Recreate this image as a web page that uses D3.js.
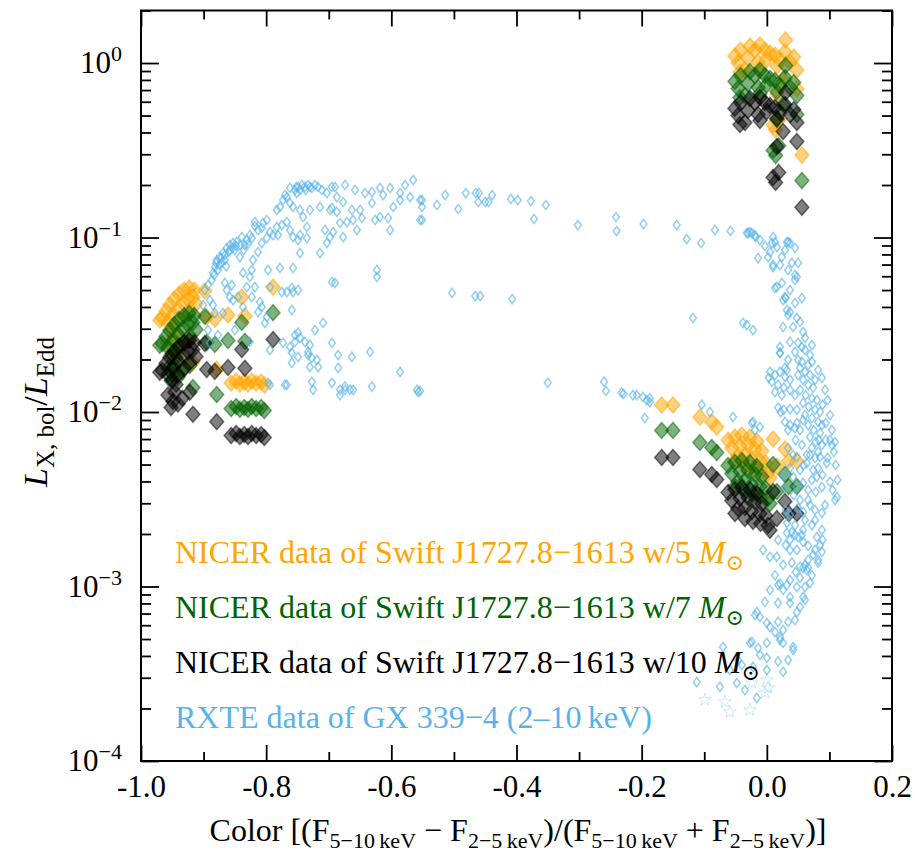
<!DOCTYPE html>
<html>
<head>
<meta charset="utf-8">
<script src="https://cdn.jsdelivr.net/npm/d3@7"></script>
<style>
  body { margin: 0; background: #fff; }
  svg { font-family: "Liberation Serif", "DejaVu Serif", serif; }
</style>
</head>
<body>
<div id="chart"></div>
<script>
// NICER data of Swift J1727.8-1613 : same colour, L/LEdd for 5, 7 and 10 Msun
const nicerColor = [
  -0.966, -0.960, -0.954, -0.947, -0.939, -0.931, -0.923, -0.915, -0.957, -0.949,
  -0.941, -0.933, -0.925, -0.917, -0.950, -0.941, -0.931, -0.922, -0.912, -0.944,
  -0.957, -0.949, -0.941, -0.934, -0.946, -0.952, -0.970, -0.898, -0.882, -0.861,
  -0.834, -0.839, -0.789, -0.879, -0.917, -0.895, -0.922, -0.856, -0.848, -0.842,
  -0.835, -0.829, -0.823, -0.816, -0.808, -0.803,
  -0.051, -0.042, -0.046, -0.030, -0.035, -0.019, -0.011, -0.003, 0.005, -0.014,
  0.000, 0.013, 0.021, 0.029, 0.037, 0.043, 0.048, 0.030, 0.016, 0.026,
  0.048, 0.016, 0.010, 0.019, 0.014, 0.056, -0.011, -0.027, -0.043,
  -0.168, -0.150, -0.107, -0.088, -0.080, -0.062, -0.051, -0.040, -0.027, -0.016,
  -0.056, -0.043, -0.030, -0.019, -0.008, -0.046, -0.035, -0.024, -0.011, -0.002,
  -0.035, -0.022, -0.010, 0.002, -0.051, 0.010, 0.029, 0.048, 0.035, 0.016, 0.005
];
const nicerL5 = [
  0.0346, 0.0379, 0.0410, 0.0444, 0.0475, 0.0500, 0.0514, 0.0500, 0.0328, 0.0360,
  0.0390, 0.0421, 0.0444, 0.0456, 0.0303, 0.0328, 0.0355, 0.0384, 0.0416, 0.0287,
  0.0249, 0.0230, 0.0221, 0.0239, 0.0259, 0.0212, 0.0337, 0.0494, 0.0341, 0.0360,
  0.0355, 0.0456, 0.0520, 0.0176, 0.0193, 0.0350, 0.0259, 0.01466, 0.01505, 0.01447,
  0.01486, 0.01447, 0.01505, 0.01466, 0.01486, 0.01428,
  1.097, 1.187, 1.000, 1.068, 0.912, 1.187, 1.268, 1.187, 1.141, 1.013,
  1.054, 1.111, 1.040, 1.156, 1.013, 1.082, 0.912, 1.355, 0.961, 0.810,
  0.710, 0.664, 0.441, 0.471, 0.413, 0.297, 0.936, 1.251, 0.888,
  0.01097, 0.01097, 0.00936, 0.00877, 0.00820, 0.00691, 0.00719, 0.00738, 0.00719, 0.00682,
  0.00622, 0.00639, 0.00647, 0.00614, 0.00598, 0.00560, 0.00567, 0.00538, 0.00524, 0.00510,
  0.00490, 0.00471, 0.00459, 0.00447, 0.00524, 0.00700, 0.00614, 0.00524, 0.00524, 0.00490, 0.00419
];
const nicerL7 = [
  0.0247, 0.0271, 0.0293, 0.0317, 0.0339, 0.0357, 0.0367, 0.0357, 0.0234, 0.0257,
  0.0279, 0.0301, 0.0317, 0.0326, 0.0216, 0.0234, 0.0254, 0.0274, 0.0297, 0.0205,
  0.0178, 0.0164, 0.0158, 0.0171, 0.0185, 0.0151, 0.0241, 0.0353, 0.0244, 0.0257,
  0.0254, 0.0326, 0.0371, 0.0126, 0.0138, 0.0250, 0.0185, 0.01047, 0.01075, 0.01034,
  0.01061, 0.01034, 0.01075, 0.01047, 0.01061, 0.01020,
  0.784, 0.848, 0.714, 0.763, 0.651, 0.848, 0.906, 0.848, 0.815, 0.724,
  0.753, 0.794, 0.743, 0.826, 0.724, 0.773, 0.651, 0.968, 0.686, 0.579,
  0.507, 0.474, 0.315, 0.336, 0.295, 0.212, 0.669, 0.894, 0.634,
  0.00784, 0.00784, 0.00669, 0.00626, 0.00586, 0.00494, 0.00514, 0.00527, 0.00514, 0.00487,
  0.00444, 0.00456, 0.00462, 0.00439, 0.00427, 0.00400, 0.00405, 0.00384, 0.00374, 0.00364,
  0.00350, 0.00336, 0.00328, 0.00319, 0.00374, 0.00500, 0.00439, 0.00374, 0.00374, 0.00350, 0.00299
];
const nicerL10 = [
  0.0173, 0.0190, 0.0205, 0.0222, 0.0238, 0.0250, 0.0257, 0.0250, 0.0164, 0.0180,
  0.0195, 0.0211, 0.0222, 0.0228, 0.0152, 0.0164, 0.0178, 0.0192, 0.0208, 0.0144,
  0.0125, 0.0115, 0.0111, 0.0120, 0.0130, 0.0106, 0.0169, 0.0247, 0.0171, 0.0180,
  0.0178, 0.0228, 0.0260, 0.0088, 0.0097, 0.0175, 0.0130, 0.00733, 0.00753, 0.00724,
  0.00743, 0.00724, 0.00753, 0.00733, 0.00743, 0.00714,
  0.549, 0.594, 0.500, 0.534, 0.456, 0.594, 0.634, 0.594, 0.571, 0.507,
  0.527, 0.556, 0.520, 0.578, 0.507, 0.541, 0.456, 0.678, 0.481, 0.405,
  0.355, 0.332, 0.221, 0.236, 0.207, 0.149, 0.468, 0.626, 0.444,
  0.00549, 0.00549, 0.00468, 0.00439, 0.00410, 0.00346, 0.00360, 0.00369, 0.00360, 0.00341,
  0.00311, 0.00320, 0.00324, 0.00307, 0.00299, 0.00280, 0.00284, 0.00269, 0.00262, 0.00255,
  0.00245, 0.00236, 0.00230, 0.00224, 0.00262, 0.00350, 0.00307, 0.00262, 0.00262, 0.00245, 0.00210
];

// RXTE data of GX 339-4, [colour, L/LEdd]
const rxteRise = [
  [-0.885, 0.0627], [-0.882, 0.0677], [-0.879, 0.0743], [-0.874, 0.0773], [-0.869, 0.0815],
  [-0.863, 0.0871], [-0.858, 0.0906], [-0.853, 0.0930], [-0.847, 0.0942], [-0.858, 0.0848],
  [-0.871, 0.0715], [-0.877, 0.0651], [-0.866, 0.0743], [-0.850, 0.0848], [-0.842, 0.0773],
  [-0.831, 0.0967], [-0.826, 0.1033], [-0.839, 0.1006], [-0.834, 0.0906], [-0.818, 0.1227],
  [-0.818, 0.1164], [-0.863, 0.0500], [-0.858, 0.0456], [-0.853, 0.0438], [-0.845, 0.0456],
  [-0.866, 0.0549], [-0.855, 0.0534], [-0.890, 0.0438], [-0.885, 0.0410], [-0.901, 0.0410],
  [-0.869, 0.0369], [-0.831, 0.0520], [-0.823, 0.0456], [-0.818, 0.0520], [-0.810, 0.0427],
  [-0.813, 0.0374], [-0.797, 0.0651], [-0.778, 0.0669], [-0.757, 0.0669], [-0.823, 0.0651],
  [-0.826, 0.0594], [-0.837, 0.0627], [-0.821, 0.0743], [-0.813, 0.0826], [-0.807, 0.0930],
  [-0.799, 0.0993], [-0.794, 0.1075], [-0.789, 0.1033], [-0.781, 0.1033], [-0.783, 0.1149],
  [-0.775, 0.1179], [-0.767, 0.1227], [-0.805, 0.1211], [-0.799, 0.1260], [-0.783, 0.1438],
  [-0.778, 0.1496], [-0.773, 0.1640], [-0.762, 0.1577],
  [-0.880, 0.0715], [-0.875, 0.0696], [-0.872, 0.0763], [-0.866, 0.0794], [-0.860, 0.0826],
  [-0.854, 0.0871], [-0.848, 0.0894], [-0.842, 0.0906], [-0.883, 0.0610], [-0.887, 0.0571],
  [-0.864, 0.0686], [-0.836, 0.0848], [-0.829, 0.0918], [-0.823, 0.0993], [-0.813, 0.1104],
  [-0.807, 0.1134], [-0.898, 0.0500], [-0.893, 0.0534]
];
const rxteSoftArc = [
  [-0.762, 0.1922], [-0.754, 0.1872], [-0.749, 0.1948], [-0.743, 0.2000], [-0.738, 0.1948],
  [-0.733, 0.2000], [-0.727, 0.1922], [-0.722, 0.2000], [-0.717, 0.1948], [-0.751, 0.1799],
  [-0.767, 0.1706], [-0.757, 0.1496], [-0.746, 0.1438], [-0.741, 0.1311], [-0.730, 0.1438],
  [-0.735, 0.1149], [-0.762, 0.1104], [-0.757, 0.1006], [-0.746, 0.1033], [-0.735, 0.0993],
  [-0.746, 0.0815], [-0.749, 0.0967], [-0.714, 0.1496], [-0.706, 0.1104], [-0.698, 0.1006],
  [-0.703, 0.0930], [-0.693, 0.1075], [-0.714, 0.0815], [-0.703, 0.1799], [-0.695, 0.1948],
  [-0.690, 0.1948], [-0.698, 0.1438], [-0.687, 0.1401], [-0.677, 0.1598], [-0.682, 0.1211],
  [-0.671, 0.1227], [-0.677, 0.1006], [-0.661, 0.1260], [-0.655, 0.1104], [-0.650, 0.1438],
  [-0.642, 0.1799], [-0.631, 0.1823], [-0.631, 0.1577], [-0.618, 0.1922], [-0.613, 0.1752],
  [-0.618, 0.1311], [-0.626, 0.1260], [-0.602, 0.1104], [-0.586, 0.1799], [-0.570, 0.1706],
  [-0.565, 0.2135], [-0.554, 0.1640], [-0.554, 0.1260], [-0.586, 0.1640], [-0.597, 0.1496],
  [-0.605, 0.1294], [-0.647, 0.1294], [-0.663, 0.1438], [-0.687, 0.1706], [-0.695, 0.1476],
  [-0.746, 0.1872], [-0.737, 0.1872], [-0.730, 0.1948], [-0.752, 0.1948], [-0.711, 0.1872],
  [-0.770, 0.1752], [-0.674, 0.2000], [-0.658, 0.1872], [-0.602, 0.1922], [-0.578, 0.2000],
  [-0.551, 0.1640], [-0.551, 0.1496], [-0.551, 0.1260], [-0.527, 0.1536], [-0.514, 0.1752],
  [-0.481, 0.1799], [-0.493, 0.1457], [-0.465, 0.1799], [-0.460, 0.1799], [-0.461, 0.1598],
  [-0.450, 0.1598], [-0.445, 0.1598], [-0.439, 0.1752], [-0.409, 0.1663], [-0.398, 0.1640],
  [-0.377, 0.1619], [-0.372, 0.1277], [-0.353, 0.1536], [-0.302, 0.1179], [-0.241, 0.1311],
  [-0.240, 0.1090], [-0.197, 0.1195], [-0.144, 0.1179], [-0.128, 0.0980], [-0.105, 0.0930],
  [-0.083, 0.1104]
];
const rxteHardBranch = [
  [-0.759, 0.0514], [-0.775, 0.0487], [-0.767, 0.0487], [-0.757, 0.0487], [-0.749, 0.0500],
  [-0.794, 0.0520], [-0.695, 0.0556], [-0.690, 0.0549], [-0.623, 0.0651], [-0.623, 0.0594],
  [-0.709, 0.0324], [-0.722, 0.0295], [-0.749, 0.0284], [-0.754, 0.0252], [-0.762, 0.0236],
  [-0.746, 0.0266], [-0.738, 0.0252], [-0.730, 0.0242], [-0.733, 0.0221], [-0.733, 0.0212],
  [-0.719, 0.0199], [-0.717, 0.0181], [-0.730, 0.0181], [-0.759, 0.0191], [-0.749, 0.0207],
  [-0.695, 0.0249], [-0.685, 0.0212], [-0.663, 0.0207], [-0.685, 0.0179], [-0.634, 0.0221],
  [-0.695, 0.0147], [-0.727, 0.0149], [-0.725, 0.0134], [-0.682, 0.0134], [-0.674, 0.0134],
  [-0.661, 0.0134], [-0.631, 0.0140], [-0.586, 0.0170], [-0.559, 0.0134], [-0.767, 0.0143],
  [-0.794, 0.0143], [-0.682, 0.0125], [-0.799, 0.0350], [-0.802, 0.0324], [-0.807, 0.0400],
  [-0.837, 0.0400], [-0.882, 0.0369], [-0.893, 0.0295], [-0.890, 0.0249], [-0.794, 0.0227],
  [-0.826, 0.0252], [-0.773, 0.0249], [-0.797, 0.0147], [-0.770, 0.0143], [-0.754, 0.0276],
  [-0.759, 0.0218], [-0.727, 0.0204], [-0.674, 0.0140], [-0.666, 0.0134], [-0.557, 0.0130],
  [-0.759, 0.0384], [-0.850, 0.0295], [-0.877, 0.0276],
  [-0.503, 0.0481], [-0.466, 0.0462], [-0.458, 0.0462], [-0.407, 0.0444], [-0.118, 0.0346],
  [-0.350, 0.0147], [-0.260, 0.0149], [-0.257, 0.0132], [-0.229, 0.0127], [-0.214, 0.0125],
  [-0.208, 0.0125], [-0.198, 0.0122], [-0.187, 0.0120], [-0.554, 0.0132], [-0.232, 0.0129],
  [-0.192, 0.0117], [-0.187, 0.0114], [-0.195, 0.00924], [-0.104, 0.0110], [-0.091, 0.0100],
  [-0.054, 0.00936], [-0.022, 0.00877], [-0.011, 0.00820]
];
const rxteSoftState = [
  [-0.058, 0.1090], [-0.030, 0.1061], [-0.024, 0.1061], [-0.018, 0.1006], [0.010, 0.1006],
  [0.013, 0.0942], [0.034, 0.0942], [0.045, 0.0871], [-0.014, 0.0763], [0.002, 0.0773],
  [0.010, 0.0677], [0.024, 0.0773], [0.029, 0.0848], [0.048, 0.0594], [0.016, 0.0520],
  [0.024, 0.0549], [0.056, 0.0450], [0.029, 0.0456], [-0.032, 0.1061], [-0.027, 0.1075],
  [-0.019, 0.1033], [0.008, 0.0930], [0.016, 0.0882], [0.032, 0.0942], [0.037, 0.0930],
  [0.010, 0.0696], [0.013, 0.0514], [0.037, 0.0500], [0.045, 0.0610], [0.045, 0.0571],
  [0.030, 0.0450], [0.045, 0.0421], [0.032, 0.0384], [0.034, 0.0360], [0.026, 0.0307],
  [0.042, 0.0307], [0.053, 0.0328], [0.058, 0.0287], [0.037, 0.0252], [0.050, 0.0249],
  [0.056, 0.0236], [0.061, 0.0227], [0.069, 0.0212], [0.021, 0.0236], [0.021, 0.0218],
  [0.029, 0.0179], [-0.038, 0.0324], [-0.032, 0.0315], [-0.022, 0.0295], [0.101, 0.00691],
  [0.109, 0.00673], [-0.024, 0.00865], [-0.019, 0.00788], [0.021, 0.0218],
  [-0.011, 0.0967], [-0.003, 0.0894], [0.005, 0.0826], [0.021, 0.0696], [0.040, 0.0715],
  [0.034, 0.0651], [0.050, 0.0715], [0.026, 0.0438], [0.037, 0.0374], [0.048, 0.0346],
  [0.061, 0.0266], [0.072, 0.0242], [0.045, 0.0221], [0.034, 0.0199],
  [0.005, 0.0170], [0.013, 0.0163], [0.021, 0.0170], [0.029, 0.0159], [0.037, 0.0153],
  [0.008, 0.0149], [0.018, 0.0143], [0.027, 0.0138], [0.037, 0.0134], [0.013, 0.0130],
  [0.024, 0.0125], [0.003, 0.0157], [0.032, 0.0174],
  [0.018, 0.0106], [0.027, 0.0103], [0.037, 0.0104], [0.022, 0.0100],
  [0.029, 0.00877], [0.037, 0.00842], [0.045, 0.00809], [0.053, 0.00788], [0.034, 0.00788],
  [0.048, 0.00865],
  [0.053, 0.0179], [0.061, 0.0170], [0.069, 0.0163], [0.058, 0.0153], [0.066, 0.0143],
  [0.074, 0.0138], [0.053, 0.0134], [0.062, 0.0125], [0.072, 0.0120], [0.080, 0.0117],
  [0.058, 0.0113], [0.067, 0.0107], [0.077, 0.0103], [0.085, 0.0100], [0.061, 0.00961],
  [0.072, 0.00924], [0.082, 0.00877], [0.066, 0.00842], [0.075, 0.00788], [0.085, 0.00758],
  [0.069, 0.00719], [0.078, 0.00673], [0.088, 0.00647], [0.072, 0.00622], [0.082, 0.00590],
  [0.064, 0.00567], [0.077, 0.00545], [0.056, 0.0194], [0.066, 0.0186], [0.077, 0.0153],
  [0.050, 0.0163], [0.088, 0.00842], [0.094, 0.00691],
  [0.050, 0.0199], [0.072, 0.0194], [0.082, 0.0174], [0.088, 0.0157], [0.093, 0.0134],
  [0.097, 0.0117], [0.089, 0.0110], [0.101, 0.00961], [0.094, 0.00865], [0.104, 0.00788],
  [0.107, 0.00590], [0.045, 0.0125], [0.048, 0.0103], [0.058, 0.00900], [0.046, 0.00691],
  [0.056, 0.00647], [0.042, 0.00567], [0.034, 0.00622], [0.083, 0.00691], [0.104, 0.00647]
];
const rxteDecay = [
  [-0.006, 0.00162], [0.005, 0.00148], [0.021, 0.00104], [0.026, 0.000955], [0.037, 0.000804],
  [-0.016, 0.000713], [-0.011, 0.000669], [0.005, 0.000587], [0.021, 0.000513], [0.026, 0.000475],
  [0.042, 0.000450], [-0.027, 0.000475], [0.000, 0.000390], [-0.022, 0.000346], [0.000, 0.000332],
  [0.026, 0.000324], [-0.070, 0.000450], [-0.112, 0.000283], [-0.075, 0.000266], [-0.016, 0.000230],
  [-0.048, 0.000280], [-0.059, 0.000332], [-0.040, 0.000355], [-0.024, 0.000481], [-0.014, 0.000444],
  [0.000, 0.000475], [0.042, 0.000433], [0.026, 0.000563], [0.013, 0.000548], [0.018, 0.000627],
  [0.021, 0.000494], [-0.003, 0.000815], [-0.019, 0.000686], [0.000, 0.000618], [0.018, 0.000804],
  [0.034, 0.000627], [0.053, 0.000762], [0.048, 0.000713], [0.016, 0.00148], [0.018, 0.00102],
  [0.032, 0.00102], [0.048, 0.000993], [0.037, 0.000870], [0.058, 0.000870], [0.061, 0.000993],
  [0.069, 0.00105], [0.053, 0.00112], [0.040, 0.00137], [0.053, 0.00130], [0.066, 0.00128],
  [0.082, 0.00137], [0.077, 0.00162], [0.088, 0.00158], [0.082, 0.00142], [0.066, 0.00142],
  [0.037, 0.00162], [0.048, 0.00162], [0.045, 0.00197], [0.056, 0.00197], [0.037, 0.00185],
  [0.058, 0.00180], [0.080, 0.00192], [0.088, 0.00211], [0.089, 0.00185], [0.072, 0.00225],
  [0.061, 0.00240], [0.032, 0.00231], [0.045, 0.00225], [0.037, 0.00257], [0.058, 0.00267],
  [0.077, 0.00274], [0.088, 0.00264], [0.093, 0.00293], [0.109, 0.00313], [0.112, 0.00325],
  [0.105, 0.00357], [0.101, 0.00398], [0.088, 0.00372], [0.080, 0.00425], [0.089, 0.00436],
  [0.082, 0.00477], [0.096, 0.00510], [0.097, 0.00545], [0.085, 0.00552], [0.066, 0.00357],
  [0.072, 0.00408], [0.058, 0.00392], [0.048, 0.00372], [0.042, 0.00425], [0.053, 0.00465],
  [0.064, 0.00510], [0.069, 0.00567], [0.048, 0.00552], [0.037, 0.00477], [0.026, 0.00436],
  [0.053, 0.00313], [0.066, 0.00313], [0.032, 0.00203], [0.058, 0.00211], [0.066, 0.00171],
  [0.040, 0.00205], [0.050, 0.00192], [0.061, 0.00133], [0.064, 0.00124], [0.058, 0.00128],
  [0.110, 0.00497], [0.113, 0.00408], [0.059, 0.00497], [0.074, 0.00465], [0.078, 0.00348],
  [0.069, 0.00293], [0.050, 0.00282], [0.043, 0.00334], [0.029, 0.00367], [0.030, 0.00274],
  [0.077, 0.00240], [0.085, 0.00173], [0.074, 0.00152], [0.046, 0.00121], [0.072, 0.00116],
  [0.026, 0.00133], [0.013, 0.00116], [0.005, 0.000955], [0.045, 0.000643], [0.034, 0.000379],
  [0.018, 0.000372], [-0.011, 0.000405], [-0.035, 0.000255], [-0.046, 0.000379], [0.061, 0.000837],
  [0.037, 0.00109], [0.030, 0.00173], [0.018, 0.00185]
];
const rxteStars = [
  [-0.099, 0.000224], [-0.067, 0.000218], [-0.059, 0.000191], [-0.027, 0.000196],
  [-0.024, 0.000280], [0.000, 0.000291], [0.002, 0.000262], [-0.003, 0.000246]
];

const xTicks = [-1.0, -0.8, -0.6, -0.4, -0.2, 0.0, 0.2];
const xMinor = [-0.9, -0.7, -0.5, -0.3, -0.1, 0.1];
const yTicks = [1e-4, 1e-3, 1e-2, 1e-1, 1];
const yExponents = ["\u22124", "\u22123", "\u22122", "\u22121", "0"];

const series = [
  { label: "NICER data of Swift J1727.8\u22121613 w/5 ", color: "#FFA500", L: nicerL5 },
  { label: "NICER data of Swift J1727.8\u22121613 w/7 ", color: "#006400", L: nicerL7 },
  { label: "NICER data of Swift J1727.8\u22121613 w/10 ", color: "#000000", L: nicerL10 }
];
const rxteColor = "#56B4E9";

const W = 915, H = 855;
const margin = { top: 10.5, right: 23, bottom: 94, left: 141 };
const width = W - margin.left - margin.right;
const height = H - margin.top - margin.bottom;

const svg = d3.select("#chart").append("svg")
  .attr("width", W).attr("height", H);

const g = svg.append("g")
  .attr("transform", `translate(${margin.left},${margin.top})`);

const x = d3.scaleLinear().domain([-1.0, 0.2]).range([0, width]);
const y = d3.scaleLog().domain([1e-4, 2]).range([height, 0]);

svg.append("defs").append("clipPath").attr("id", "plotclip")
  .append("rect").attr("width", width).attr("height", height);

const plot = g.append("g").attr("clip-path", "url(#plotclip)");

const bigDiamond = "M0,-8L7,0L0,8L-7,0Z";
const smallDiamond = "M0,-4.6L3.4,0L0,4.6L-3.4,0Z";
const star = d3.symbol().type(d3.symbolStar).size(50)();

// NICER points
series.forEach(s => {
  plot.append("g").selectAll("path")
    .data(nicerColor.map((c, i) => [c, s.L[i]]))
    .enter().append("path")
    .attr("d", bigDiamond)
    .attr("transform", d => `translate(${x(d[0])},${y(d[1])})`)
    .attr("fill", s.color)
    .attr("fill-opacity", 0.5)
    .attr("stroke", s.color)
    .attr("stroke-opacity", 0.5)
    .attr("stroke-width", 1.5);
});

// RXTE points
const rxteAll = [].concat(rxteRise, rxteSoftArc, rxteHardBranch, rxteSoftState, rxteDecay);
plot.append("g").selectAll("path")
  .data(rxteAll)
  .enter().append("path")
  .attr("d", smallDiamond)
  .attr("transform", d => `translate(${x(d[0])},${y(d[1])})`)
  .attr("fill", "none")
  .attr("stroke", rxteColor)
  .attr("stroke-opacity", 0.65)
  .attr("stroke-width", 1.5);

plot.append("g").selectAll("path")
  .data(rxteStars)
  .enter().append("path")
  .attr("d", star)
  .attr("transform", d => `translate(${x(d[0])},${y(d[1])})`)
  .attr("fill", "none")
  .attr("stroke", rxteColor)
  .attr("stroke-opacity", 0.3)
  .attr("stroke-width", 1);

// axes, ticks pointing inward on all sides
const yMinor = [];
[1e-4, 1e-3, 1e-2, 1e-1, 1].forEach(dec => {
  for (let k = 2; k <= 9; k++) {
    const v = k * dec;
    if (v <= 2) yMinor.push(v);
  }
});

const styleAxis = sel => {
  sel.select(".domain").remove();
  sel.selectAll(".tick line").attr("stroke", "#000").attr("stroke-width", 1.8);
  sel.selectAll(".tick text").attr("fill", "#000").attr("font-size", 31)
    .attr("font-family", "Liberation Serif, DejaVu Serif, serif");
};

g.append("g").attr("transform", `translate(0,${height})`)
  .call(d3.axisBottom(x).tickValues(xTicks).tickSize(-16).tickPadding(14)
    .tickFormat(d => d.toFixed(1)))
  .call(styleAxis);
g.append("g").attr("transform", `translate(0,${height})`)
  .call(d3.axisBottom(x).tickValues(xMinor).tickSize(-9).tickFormat(""))
  .call(styleAxis);
g.append("g")
  .call(d3.axisTop(x).tickValues(xTicks).tickSize(-16).tickFormat(""))
  .call(styleAxis);
g.append("g")
  .call(d3.axisTop(x).tickValues(xMinor).tickSize(-9).tickFormat(""))
  .call(styleAxis);

const yAxisG = g.append("g")
  .call(d3.axisLeft(y).tickValues(yTicks).tickSize(-18).tickPadding(19).tickFormat(""))
  .call(styleAxis);
yAxisG.selectAll(".tick text").each(function(d, i) {
  const t = d3.select(this);
  t.append("tspan").text("10");
  t.append("tspan").attr("dy", -12).attr("font-size", 22).text(yExponents[i]);
});
g.append("g")
  .call(d3.axisLeft(y).tickValues(yMinor).tickSize(-10).tickFormat(""))
  .call(styleAxis);
g.append("g").attr("transform", `translate(${width},0)`)
  .call(d3.axisRight(y).tickValues(yTicks).tickSize(-18).tickFormat(""))
  .call(styleAxis);
g.append("g").attr("transform", `translate(${width},0)`)
  .call(d3.axisRight(y).tickValues(yMinor).tickSize(-10).tickFormat(""))
  .call(styleAxis);

g.append("rect")
  .attr("width", width).attr("height", height)
  .attr("fill", "none").attr("stroke", "#000").attr("stroke-width", 2);

// legend (text only)
const legend = g.append("g").attr("font-size", 32);
series.forEach((s, i) => {
  const t = legend.append("text")
    .attr("x", 34).attr("y", 552 + i * 55)
    .attr("fill", s.color);
  t.append("tspan").text(s.label);
  t.append("tspan").attr("font-style", "italic").text("M");
  t.append("tspan").attr("dy", 7).attr("font-size", 22).text("\u2299");
});
legend.append("text")
  .attr("x", 34).attr("y", 552 + 3 * 55)
  .attr("fill", rxteColor)
  .text("RXTE data of GX 339\u22124 (2\u201310\u2009keV)");

// x label
const sub = (el, txt, size) => {
  el.append("tspan").attr("dy", 7).attr("font-size", size).text(txt);
  return el;
};
const xl = svg.append("text")
  .attr("x", 518).attr("y", 841)
  .attr("text-anchor", "middle")
  .attr("font-size", 32);
xl.append("tspan").text("Color [(F");
sub(xl, "5\u221210\u2009keV", 22);
xl.append("tspan").attr("dy", -7).text(" \u2212 F");
sub(xl, "2\u22125\u2009keV", 22);
xl.append("tspan").attr("dy", -7).text(")/(F");
sub(xl, "5\u221210\u2009keV", 22);
xl.append("tspan").attr("dy", -7).text(" + F");
sub(xl, "2\u22125\u2009keV", 22);
xl.append("tspan").attr("dy", -7).text(")]");

// y label
const yl = svg.append("text")
  .attr("transform", "translate(47,412) rotate(-90)")
  .attr("text-anchor", "middle")
  .attr("font-size", 34);
yl.append("tspan").attr("font-style", "italic").text("L");
sub(yl, "X, bol", 25);
yl.append("tspan").attr("dy", -7).text("/");
yl.append("tspan").attr("font-style", "italic").text("L");
sub(yl, "Edd", 25);
</script>
</body>
</html>
